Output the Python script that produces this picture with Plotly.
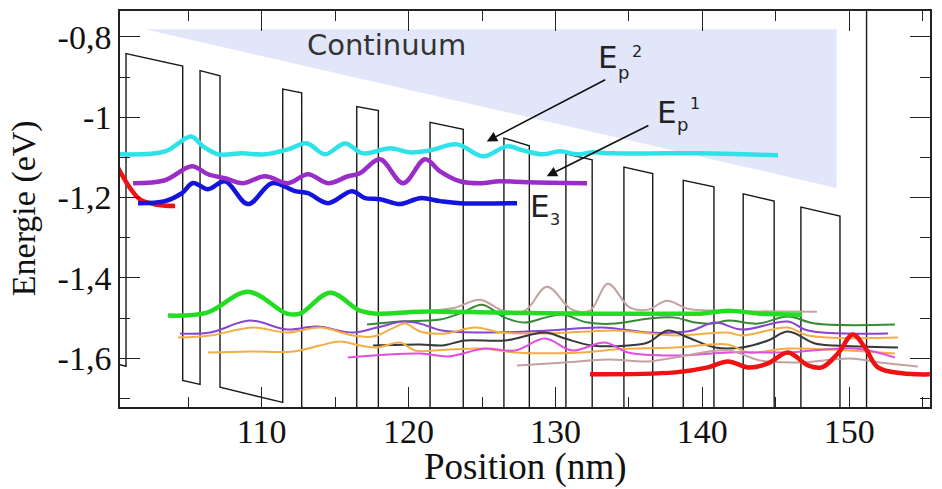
import plotly.graph_objects as go

# ---------------- data ----------------
# potential profile (conduction band), nm / eV
prof_x = [100.0, 100.76, 100.76, 104.62, 104.62, 105.80, 105.80, 107.16, 107.16, 111.43,
          111.43, 112.72, 112.72, 116.47, 116.47, 117.94, 117.94, 121.46, 121.46, 123.72,
          123.72, 126.49, 126.49, 128.22, 128.22, 130.71, 130.71, 132.50, 132.50, 134.66,
          134.66, 136.62, 136.62, 138.70, 138.70, 140.79, 140.79, 142.78, 142.78, 144.89,
          144.89, 146.71, 146.71, 149.37, 149.37, 151.18, 151.18, 156.0]
prof_y = [-1.613, -1.620, -0.8414, -0.8726, -1.655, -1.665, -0.884, -0.897, -1.672, -1.710,
          -0.930, -0.939, -1.722, -1.755, -0.9735, -0.9834, -1.766, -1.796, -1.013, -1.030,
          -1.812, -1.836, -1.052, -1.071, -1.853, -1.874, -1.091, -1.106, -1.888, -1.906,
          -1.124, -1.140, -1.922, -1.940, -1.157, -1.173, -1.955, -1.973, -1.191, -1.209,
          -1.991, -2.007, -1.224, -1.246, -2.026, -2.040, -0.50, -0.50]

cont_x = [102.06, 149.14, 149.14]
cont_y = [-0.781, -0.781, -1.176]

cyan_x = [100.35, 103.42, 105.19, 106.0, 107.03, 108.66, 110.22, 111.79, 113.08, 114.31, 115.67,
          116.9, 118.73, 120.10, 121.46, 123.30, 125.07, 126.70, 127.79, 129.09, 130.31, 131.47,
          132.56, 133.71, 137.59, 139.84, 145.15]
cyan_y = [-1.0924, -1.085, -1.0478, -1.0726, -1.0924, -1.09, -1.0924, -1.080, -1.0652, -1.0924,
          -1.0652, -1.09, -1.0775, -1.0875, -1.0825, -1.0676, -1.0974, -1.0726, -1.0825, -1.0924,
          -1.085, -1.0924, -1.0875, -1.09, -1.09, -1.09, -1.0949]

purp_x = [101.24, 103.42, 105.25, 106.34, 107.50, 108.73, 110.22, 111.79, 113.15, 114.51, 115.87,
          116.69, 118.05, 119.62, 121.12, 122.14, 123.50, 124.86, 126.22, 128.06, 132.15]
purp_y = [-1.1643, -1.1569, -1.122, -1.142, -1.152, -1.1643, -1.147, -1.1643, -1.142, -1.1643,
          -1.147, -1.1395, -1.1048, -1.1643, -1.1048, -1.1346, -1.1594, -1.1643, -1.1594, -1.1618,
          -1.1643]

blue_x = [101.58, 103.42, 104.57, 105.32, 106.34, 107.50, 109.07, 110.70, 112.27, 113.15, 114.51,
          116.14, 117.03, 118.05, 119.41, 120.78, 122.14, 123.50, 127.38]
blue_y = [-1.2139, -1.2089, -1.189, -1.1636, -1.1792, -1.1594, -1.2163, -1.1643, -1.1841, -1.189,
          -1.2139, -1.1841, -1.2015, -1.204, -1.2163, -1.2015, -1.2089, -1.2139, -1.2139]

redl_x = [100.2, 101.03, 101.71, 102.74, 104.10]
redl_y = [-1.125, -1.176, -1.2048, -1.2172, -1.2213]

green_x = [103.62, 106.28, 109.07, 111.72, 112.61, 114.65, 116.69, 117.84, 120.78, 126.22,
           133.03, 138.14, 139.84, 141.75, 143.92, 146.77]
green_y = [-1.4939, -1.4865, -1.4344, -1.4890, -1.4890, -1.4369, -1.4815, -1.4890, -1.4840,
           -1.4865, -1.4890, -1.4890, -1.4890, -1.4815, -1.489, -1.4915]

redr_x = [132.35, 138.14, 140.38, 141.75, 143.11, 144.47, 145.83, 147.19, 148.14, 149.23,
          150.25, 151.07, 151.95, 153.59, 155.49]
redr_y = [-1.6401, -1.6352, -1.6228, -1.6079, -1.6228, -1.6129, -1.5856, -1.6178, -1.6228,
          -1.5881, -1.5410, -1.5732, -1.6228, -1.6376, -1.6401]

tanu_x = [121.56, 123.16, 124.86, 126.43, 127.92, 129.42, 131.12, 132.35, 133.57, 135.07,
          136.29, 137.59, 139.02, 141.20, 147.80]
tanu_y = [-1.4815, -1.4741, -1.4543, -1.4815, -1.4815, -1.422, -1.479, -1.4815, -1.4146,
          -1.4741, -1.479, -1.4567, -1.4766, -1.4815, -1.484]

dgrn_x = [117.17, 119.41, 122.14, 123.64, 125.0, 126.56, 127.92, 129.29, 130.44, 132.21, 134.05,
          136.29, 138.14, 139.50, 140.66, 141.75, 143.79, 145.83, 147.67, 153.11]
dgrn_y = [-1.5162, -1.5088, -1.5038, -1.4865, -1.4667, -1.4989, -1.5113, -1.4989, -1.4914,
          -1.5113, -1.5138, -1.5014, -1.4989, -1.5113, -1.5138, -1.5063, -1.5138, -1.4964,
          -1.5138, -1.5162]

tpur_x = [104.44, 106.48, 109.20, 111.72, 113.76, 116.22, 117.84, 119.62, 120.78, 122.27, 125.0,
          129.50, 133.17, 136.31, 138.14, 139.29, 140.86, 142.70, 145.83, 147.19, 152.64]
tpur_y = [-1.5385, -1.5361, -1.5063, -1.5286, -1.5212, -1.5361, -1.5237, -1.5088, -1.5138,
          -1.5311, -1.5361, -1.5311, -1.5237, -1.5361, -1.5361, -1.5311, -1.5113, -1.5286,
          -1.5088, -1.5311, -1.5385]

oru_x = [104.30, 106.48, 109.41, 111.72, 113.97, 116.22, 117.58, 118.87, 119.76, 120.78, 122.48,
         124.52, 126.36, 129.49, 134.05, 138.14, 141.75, 142.70, 145.83, 147.19, 153.32]
oru_y = [-1.5484, -1.5435, -1.5237, -1.5361, -1.5237, -1.5435, -1.546, -1.5262, -1.5138,
         -1.5336, -1.5385, -1.5237, -1.5361, -1.5385, -1.5311, -1.5435, -1.5361, -1.5435,
         -1.5237, -1.5435, -1.5484]

blk_x = [117.58, 120.78, 122.28, 123.84, 126.56, 129.29, 130.65, 132.49, 134.94, 136.29, 137.65,
         139.02, 140.86, 142.70, 144.47, 145.83, 147.67, 149.03, 153.32]
blk_y = [-1.5683, -1.5658, -1.5683, -1.5559, -1.5559, -1.5361, -1.551, -1.5683, -1.5683,
         -1.5609, -1.5311, -1.5485, -1.5733, -1.5733, -1.5559, -1.5336, -1.5633, -1.5683, -1.5733]

orl_x = [106.34, 109.20, 112.13, 113.97, 115.33, 116.69, 117.85, 119.41, 120.44, 122.82, 125.0,
         127.25, 131.81, 134.05, 138.14, 141.75, 143.11, 145.83, 153.11]
orl_y = [-1.5856, -1.5831, -1.5831, -1.5683, -1.5584, -1.5683, -1.5733, -1.5609, -1.5807,
         -1.5782, -1.5757, -1.5856, -1.5856, -1.5782, -1.5733, -1.5658, -1.5856, -1.5757, -1.5881]

mag_x = [115.87, 120.78, 122.68, 125.20, 127.24, 129.29, 131.12, 133.37, 134.94, 138.14, 141.75,
         145.83, 150.39, 153.11]
mag_y = [-1.598, -1.5881, -1.5955, -1.5757, -1.5807, -1.551, -1.5807, -1.5609, -1.5856, -1.5931,
         -1.5856, -1.5856, -1.5757, -1.598]

tanl_x = [127.38, 130.65, 133.57, 136.29, 138.14, 141.75, 143.92, 146.64, 150.05, 152.09, 154.67]
tanl_y = [-1.6178, -1.6104, -1.603, -1.6079, -1.598, -1.5807, -1.6055, -1.6104, -1.6005,
          -1.6104, -1.6203]

x_tickvals = [110, 120, 130, 140, 150]
x_ticktext = ["110", "120", "130", "140", "150"]
y_tickvals = [-0.8, -1.0, -1.2, -1.4, -1.6]
y_ticktext = ["-0,8", "-1", "-1,2", "-1,4", "-1,6"]

# ---------------- figure ----------------
fig = go.Figure()

fig.add_trace(go.Scatter(x=cont_x, y=cont_y, fill="toself", mode="lines",
                         line=dict(width=0), fillcolor="#e1e6f8", hoverinfo="skip"))
fig.add_trace(go.Scatter(x=prof_x, y=prof_y, mode="lines",
                         line=dict(color="#1a1a1a", width=1.4)))

thin = [
    (tanu_x, tanu_y, "#c4a2a0"),
    (dgrn_x, dgrn_y, "#358a35"),
    (tpur_x, tpur_y, "#8a45d0"),
    (oru_x, oru_y, "#f3ad45"),
    (blk_x, blk_y, "#383838"),
    (orl_x, orl_y, "#f3ad45"),
    (mag_x, mag_y, "#e04fe0"),
    (tanl_x, tanl_y, "#c4a2a0"),
]
for xs, ys, c in thin:
    fig.add_trace(go.Scatter(x=xs, y=ys, mode="lines",
                             line=dict(color=c, width=2, shape="spline", smoothing=1.0)))

thick = [
    (green_x, green_y, "#22dd22"),
    (redr_x, redr_y, "#ee1212"),
    (redl_x, redl_y, "#ee1212"),
    (blue_x, blue_y, "#1414dc"),
    (purp_x, purp_y, "#9a2cc8"),
    (cyan_x, cyan_y, "#2ee2e8"),
]
for xs, ys, c in thick:
    fig.add_trace(go.Scatter(x=xs, y=ys, mode="lines",
                             line=dict(color=c, width=4.5, shape="spline", smoothing=1.0)))

lab_font = dict(family="DejaVu Sans", color="#222222")
ann = []
ann.append(dict(x=0.5, y=-0.1516, xref="paper", yref="paper", text="Position (nm)",
                xanchor="center", yanchor="middle", showarrow=False,
                font=dict(family="Liberation Serif", size=37, color="#111")))
ann.append(dict(x=-0.1185, y=0.502, xref="paper", yref="paper", text="Energie (eV)",
                xanchor="center", yanchor="middle", showarrow=False, textangle=-90,
                font=dict(family="Liberation Serif", size=34, color="#111")))
ann.append(dict(x=118.51, y=-0.819, text="Continuum", showarrow=False,
                font=dict(family="DejaVu Sans", size=29, color="#333333")))
# E_p^2
ann.append(dict(x=133.57, y=-0.850, text="E", showarrow=False, font=dict(size=31, **lab_font)))
ann.append(dict(x=134.60, y=-0.889, text="p", showarrow=False, font=dict(size=18, **lab_font)))
ann.append(dict(x=135.55, y=-0.837, text="2", showarrow=False, font=dict(size=16, **lab_font)))
# E_p^1
ann.append(dict(x=137.56, y=-0.986, text="E", showarrow=False, font=dict(size=31, **lab_font)))
ann.append(dict(x=138.68, y=-1.019, text="p", showarrow=False, font=dict(size=18, **lab_font)))
ann.append(dict(x=139.50, y=-0.967, text="1", showarrow=False, font=dict(size=16, **lab_font)))
# E3
ann.append(dict(x=128.94, y=-1.220, text="E", showarrow=False, font=dict(size=31, **lab_font)))
ann.append(dict(x=129.97, y=-1.255, text="3", showarrow=False, font=dict(size=16, **lab_font)))
# arrows
ann.append(dict(x=125.32, y=-1.0602, ax=133.49, ay=-0.9048, axref="x", ayref="y",
                text="", showarrow=True, arrowhead=2, arrowsize=1.3,
                arrowwidth=1.6, arrowcolor="#111"))
ann.append(dict(x=129.40, y=-1.147, ax=136.43, ay=-1.0188, axref="x", ayref="y",
                text="", showarrow=True, arrowhead=2, arrowsize=1.3,
                arrowwidth=1.6, arrowcolor="#111"))
for a in ann:
    a.setdefault("xref", "x")
    a.setdefault("yref", "y")

axis_common = dict(showgrid=False, zeroline=False, showline=True, linecolor="#222",
                   linewidth=1.5, mirror="ticks", ticks="inside", ticklen=20, tickwidth=1.4,
                   tickcolor="#222",
                   tickfont=dict(family="Liberation Serif", size=34, color="#111"))

fig.update_layout(
    width=942, height=489, showlegend=False,
    margin=dict(l=120, r=12, t=9, b=82),
    paper_bgcolor="white", plot_bgcolor="white",
    annotations=ann,
    xaxis=dict(range=[100.35, 155.5], tickmode="array", tickvals=x_tickvals,
               ticktext=x_ticktext, ticklabelstandoff=-7,
               minor=dict(dtick=5, tick0=100, ticks="inside", ticklen=10, tickwidth=1.4,
                          tickcolor="#222"),
               **axis_common),
    yaxis=dict(range=[-1.7214, -0.7356], tickmode="array", tickvals=y_tickvals,
               ticktext=y_ticktext,
               minor=dict(dtick=0.1, tick0=-0.8, ticks="inside", ticklen=10, tickwidth=1.4,
                          tickcolor="#222"),
               **axis_common),
)

# remove the default page margin so the figure fills the window exactly
fig.write_html("out.html", config={"displayModeBar": False},
               post_script="document.body.style.margin='0';")
